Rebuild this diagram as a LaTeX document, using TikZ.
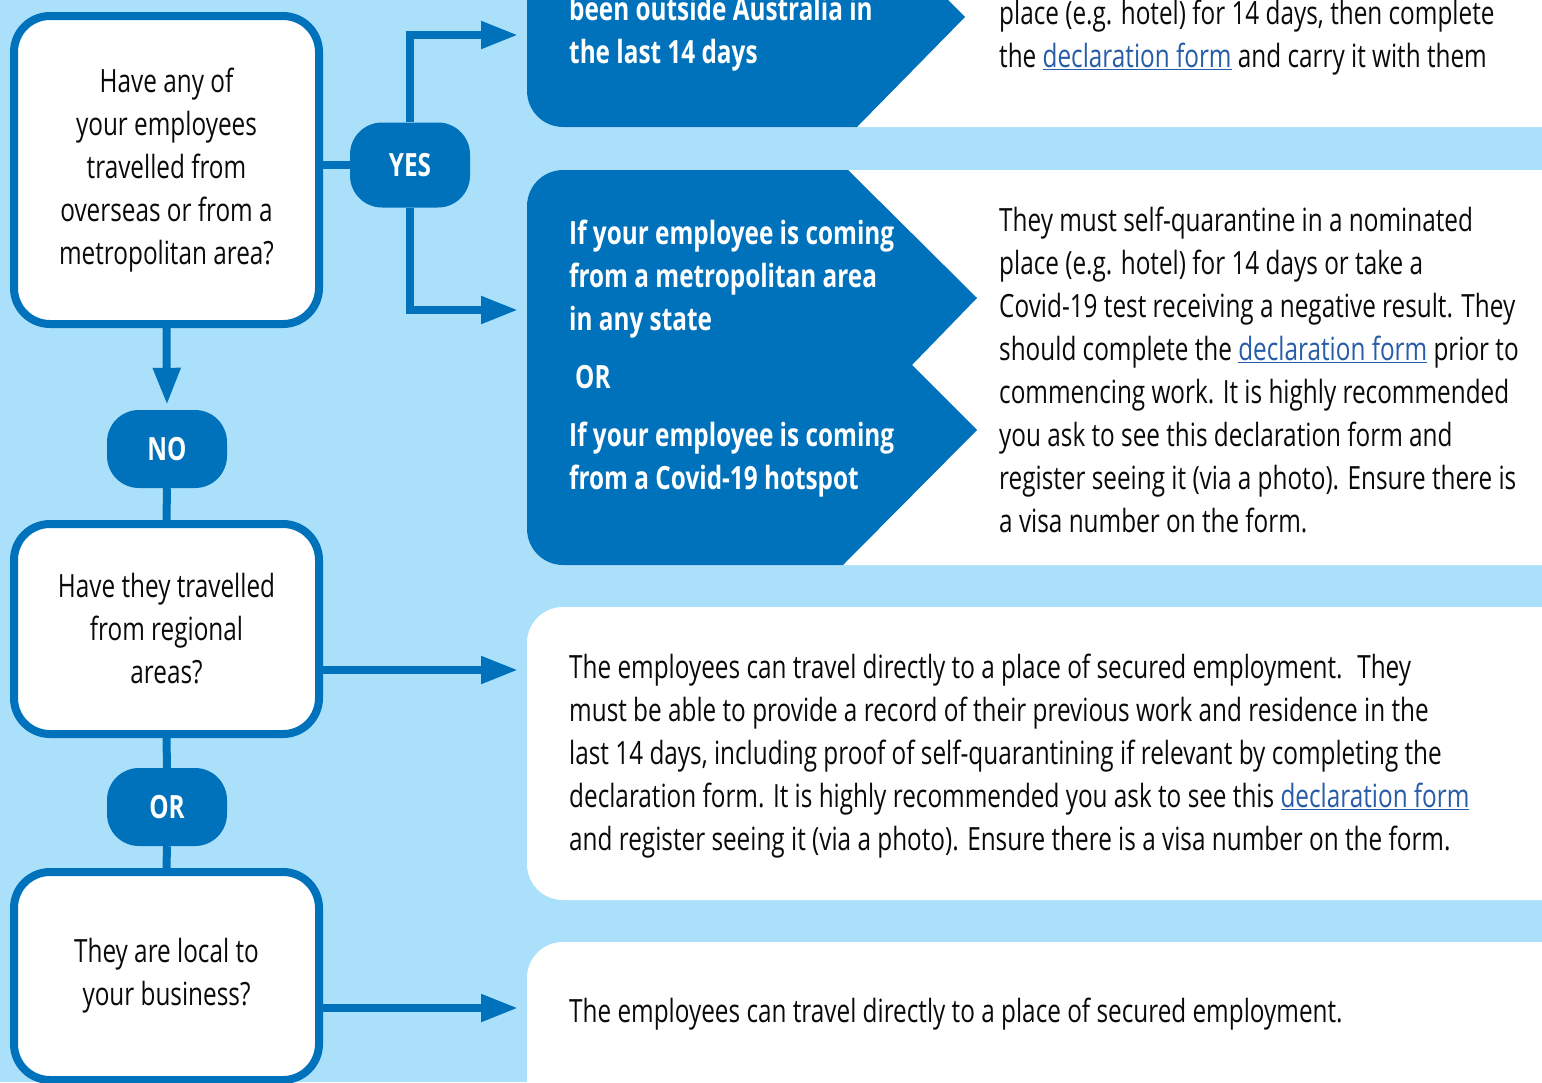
\documentclass[tikz,border=0pt]{standalone}
\usepackage{fontspec}
\setmainfont{Open Sans}[FakeStretch=0.76]
\usetikzlibrary{arrows.meta}

\definecolor{skyblue}{RGB}{171,224,250}
\definecolor{deepblue}{RGB}{0,114,188}
\definecolor{linkblue}{RGB}{38,92,168}
\definecolor{inkblack}{RGB}{10,10,10}
\newcommand{\formlink}[1]{\textcolor{linkblue}{\underline{#1}}}

\tikzset{
    question/.style={draw=deepblue, line width=8pt, fill=white, text=inkblack, rounded corners=36pt,
        minimum width=305pt, align=center},
    answer/.style={fill=deepblue, text=white, font=\fontsize{32}{43}\selectfont\bfseries,
        rounded corners=32pt, minimum width=120pt},
    bluetext/.style={text=white, font=\fontsize{32}{43}\selectfont\bfseries, align=left, anchor=west, inner xsep=0pt},
    plaintext/.style={text=inkblack, align=left, anchor=west, inner xsep=0pt},
    flow/.style={draw=deepblue, line width=8pt, -{Triangle[length=37pt, width=26pt]}},
    joint/.style={draw=deepblue, line width=8pt}
}

\begin{document}
\begin{tikzpicture}[x=1pt, y=-1pt, font=\fontsize{32}{43}\selectfont]
        \fill[skyblue] (0,0) rectangle (1542,1082);
        \useasboundingbox (0,0) rectangle (1542,1082);
        \clip (0,0) rectangle (1542,1082);

        \fill[white, rounded corners=36pt] (527,-80) rectangle (1600,127);
        \begin{scope}
            \clip[rounded corners=36pt] (527,-80) rectangle (1600,127);
            \fill[deepblue] (527,-80) -- (868,-80) -- (965,17) -- (857,127) -- (527,127) -- cycle;
        \end{scope}
        \node[bluetext] (srcA) at (569,34) {been outside Australia in\\the last 14 days};
        \node[plaintext] (stepA) at (999,38) {place (e.g. hotel) for 14 days, then complete\\the \formlink{declaration form} and carry it with them};

        \fill[white, rounded corners=36pt] (527,170) rectangle (1600,565);
        \begin{scope}
            \clip[rounded corners=36pt] (527,170) rectangle (1600,565);
            \fill[deepblue] (527,170) -- (848,170) -- (977,298) -- (912,365) -- (977,430) -- (843,565) -- (527,565) -- cycle;
        \end{scope}
        \node[bluetext] (srcB) at (569,359) {If your employee is coming\\from a metropolitan area\\in any state\\[15pt]\hspace{6pt}OR\\[15pt]If your employee is coming\\from a Covid-19 hotspot};
        \node[plaintext] (stepB) at (999,370) {They must self-quarantine in a nominated\\place (e.g. hotel) for 14 days or take a\\Covid-19 test receiving a negative result. They\\should complete the \formlink{declaration form} prior to\\commencing work. It is highly recommended\\you ask to see this declaration form and\\register seeing it (via a photo). Ensure there is\\a visa number on the form.};

        \fill[white, rounded corners=36pt] (527,607) rectangle (1600,900);
        \node[plaintext] (stepC) at (569,756) {The employees can travel directly to a place of secured employment.~ They\\must be able to provide a record of their previous work and residence in the\\last 14 days, including proof of self-quarantining if relevant by completing the\\declaration form. It is highly recommended you ask to see this \formlink{declaration form}\\and register seeing it (via a photo). Ensure there is a visa number on the form.};

        \fill[white, rounded corners=36pt] (527,942) rectangle (1600,1140);
        \node[plaintext] (stepD) at (569,1014) {The employees can travel directly to a place of secured employment.};

        \node[question, minimum height=308pt] (qTravel) at (166.5,170) {Have any of\\your employees\\travelled from\\overseas or from a\\metropolitan area?};
        \node[question, minimum height=210pt] (qRegional) at (166.5,629) {Have they travelled\\from regional\\areas?};
        \node[question, minimum height=208pt] (qLocal) at (166.5,976) {They are local to\\your business?};

        \node[answer, minimum height=85pt] (yes) at (410,165) {YES};
        \node[answer, minimum height=78pt] (no) at (167,449) {NO};
        \node[answer, minimum height=78pt] (orA) at (167,807) {OR};

        \coordinate (tipA) at (518,35);
        \coordinate (tipB) at (518,310);
        \coordinate (tipC) at (518,670);
        \coordinate (tipD) at (518,1008);

        \draw[joint] (qTravel.east |- yes.west) -- (yes.west);
        \draw[flow] (yes.north) |- (tipA);
        \draw[flow] (yes.south) |- (tipB);
        \draw[flow, shorten >=5pt] (qTravel.south) -- (no.north);
        \draw[joint] (no.south) -- (qRegional.north);
        \draw[joint] (qRegional.south) -- (orA.north);
        \draw[joint] (orA.south) -- (qLocal.north);
        \draw[flow] (qRegional.east |- tipC) -- (tipC);
        \draw[flow] (qLocal.east |- tipD) -- (tipD);
    \end{tikzpicture}
\end{document}
